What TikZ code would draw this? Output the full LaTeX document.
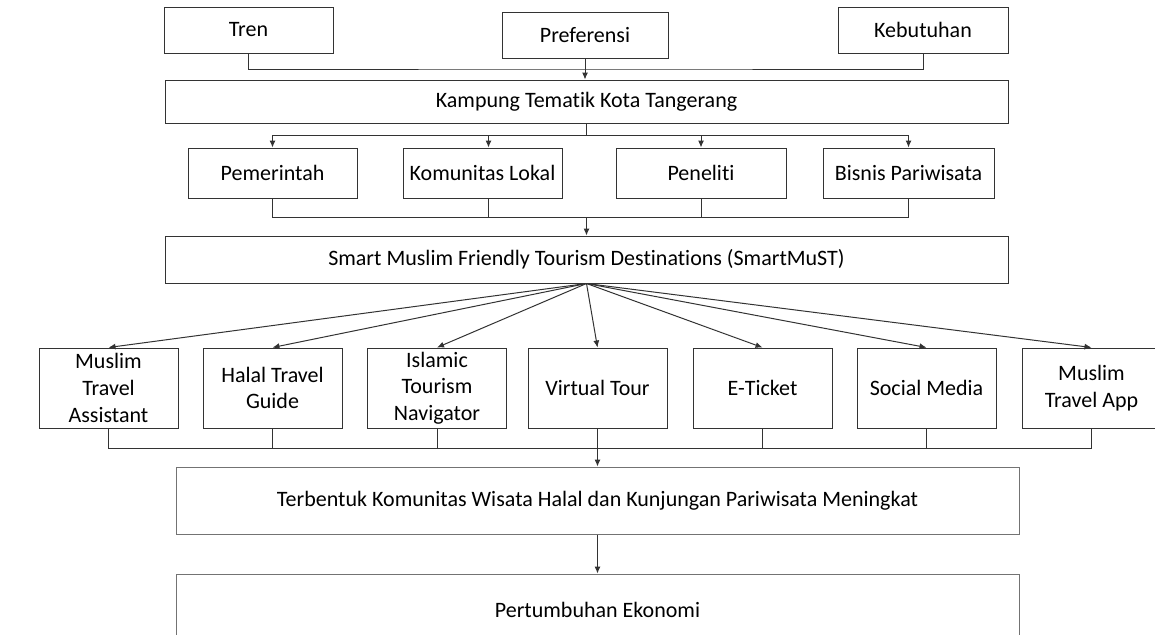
\documentclass[tikz,border=0pt]{standalone}
\usepackage{fontspec}
\setmainfont{Carlito}[Ligatures=NoCommon]
\usetikzlibrary{arrows.meta}

\begin{document}
\begin{tikzpicture}[x=0.5pt,y=-0.5pt,
		box/.style={draw=black!80,line width=0.5pt,inner sep=0pt,align=center,font=\fontsize{11}{13.3}\selectfont},
		wide/.style={box,minimum width=421.5pt},
		link/.style={black!80,line width=0.5pt},
		>={Latex[length=3.5pt,width=3pt]}]
			\useasboundingbox (0,0) rectangle (1155,634);
			\clip (0,0) rectangle (1155,634);
			% top row
			\node[box,minimum width=84.5pt,minimum height=23pt] (tren) at (248.5,30) {Tren};
			\node[box,minimum width=83pt,minimum height=23pt] (pref) at (585,35) {Preferensi};
			\node[box,minimum width=85pt,minimum height=23pt] (kebu) at (923,30) {Kebutuhan};
			\node[wide,minimum height=21.5pt] (kamp) at (586.5,101.5) {Kampung Tematik Kota Tangerang};
			\coordinate (bus1) at (585,69);
			\draw[link] (tren.south) |- (bus1) -| (kebu.south);
			\draw[link,->] (pref.south) -- (pref.south |- kamp.north);
			% stakeholders
			\node[box,minimum width=84.5pt,minimum height=25pt] (pem) at (272.5,173) {Pemerintah};
			\node[box,minimum width=79.5pt,minimum height=25pt] (kom) at (482.5,173) {Komunitas Lokal};
			\node[box,minimum width=85pt,minimum height=25pt] (pen) at (701,173) {Peneliti};
			\node[box,minimum width=85.5pt,minimum height=25pt] (bis) at (908.5,173) {Bisnis Pariwisata};
			\coordinate (bus2) at (586.5,135);
			\draw[link] (kamp.south) -- (bus2);
			\draw[link] (pem.north |- bus2) -- (bis.north |- bus2);
			\draw[link,->] (pem.north |- bus2) -- (pem.north);
			\draw[link,->] ([xshift=3pt]kom.north |- bus2) -- ([xshift=3pt]kom.north);
			\draw[link,->] (pen.north |- bus2) -- (pen.north);
			\draw[link,->] (bis.north |- bus2) -- (bis.north);
			\node[wide,minimum height=23.5pt] (smart) at (586.5,259.5) {Smart Muslim Friendly Tourism Destinations (SmartMuST)};
			\coordinate (bus3) at (586.5,217);
			\draw[link] (pem.south) |- (bus3) -| (bis.south);
			\draw[link] ([xshift=3pt]kom.south) -- ([xshift=3pt]kom.south |- bus3);
			\draw[link] (pen.south) -- (pen.south |- bus3);
			\draw[link,->] (bus3) -- (smart.north);
			% applications
			\node[box,minimum width=69.5pt,minimum height=40pt] (mta) at (108.5,388) {Muslim\\Travel\\Assistant};
			\node[box,minimum width=69.5pt,minimum height=40pt] (htg) at (272.5,388) {Halal Travel\\Guide};
			\node[box,minimum width=69.5pt,minimum height=40pt] (itn) at (437,388) {Islamic\\Tourism\\Navigator};
			\node[box,minimum width=69.5pt,minimum height=40pt] (vt) at (597.5,388) {Virtual Tour};
			\node[box,minimum width=69.5pt,minimum height=40pt] (et) at (762.5,388) {E-Ticket};
			\node[box,minimum width=69.5pt,minimum height=40pt] (sm) at (926.5,388) {Social Media};
			\node[box,minimum width=69.5pt,minimum height=40pt] (app) at (1091.5,388) {Muslim\\Travel App};
			\draw[link,->] (smart.south) -- (mta.north);
			\draw[link,->] (smart.south) -- (htg.north);
			\draw[link,->] (smart.south) -- (itn.north);
			\draw[link,->] (smart.south) -- (vt.north);
			\draw[link,->] (smart.south) -- (et.north);
			\draw[link,->] (smart.south) -- (sm.north);
			\draw[link,->] (smart.south) -- (app.north);
			\coordinate (bus4) at (597.5,448);
			\draw[link] (mta.south) |- (bus4) -| (app.south);
			\draw[link] (htg.south) -- (htg.south |- bus4);
			\draw[link] (itn.south) -- (itn.south |- bus4);
			\draw[link] (vt.south) -- (bus4);
			\draw[link] (et.south) -- (et.south |- bus4);
			\draw[link] (sm.south) -- (sm.south |- bus4);
			% outcome
			\node[wide,draw=black!55,minimum height=33.5pt] (term) at (597.5,500.5) {Terbentuk Komunitas Wisata Halal dan Kunjungan Pariwisata Meningkat};
			\node[wide,draw=black!55,minimum height=36pt] (grow) at (597.5,610) {Pertumbuhan Ekonomi};
			\draw[link,->] (bus4) -- (term.north);
			\draw[link,->] (term.south) -- (grow.north);
		\end{tikzpicture}
\end{document}
